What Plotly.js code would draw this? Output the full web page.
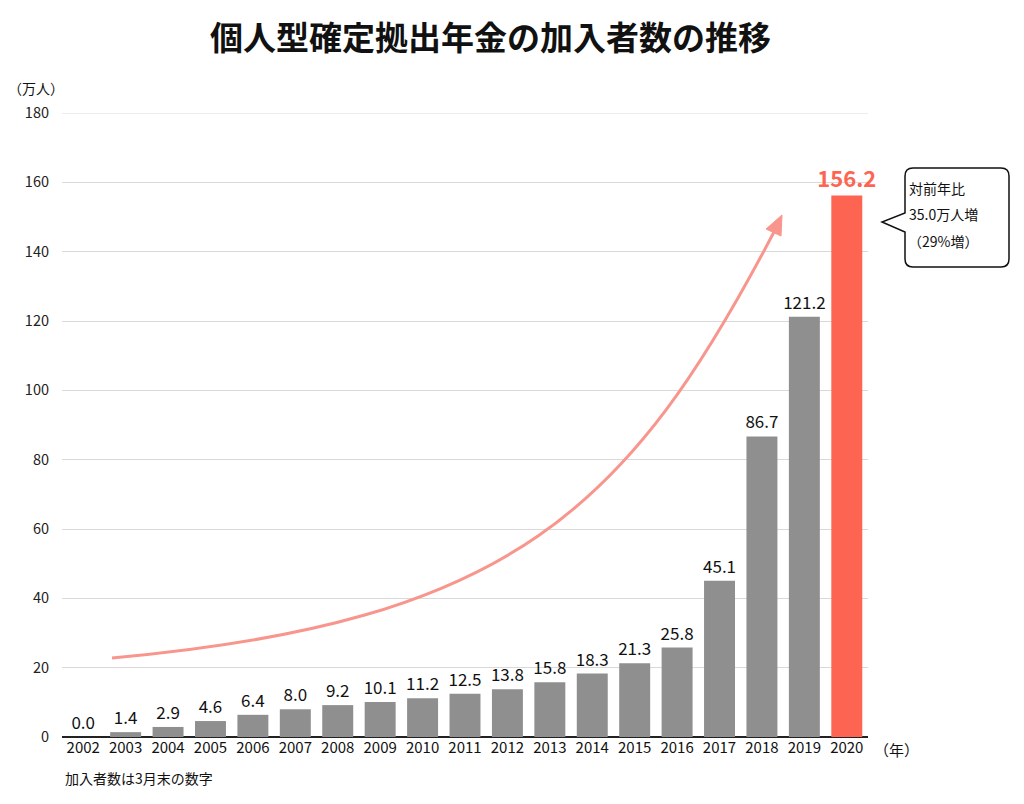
<!DOCTYPE html>
<html>
<head>
<meta charset="utf-8">
<script src="https://cdn.plot.ly/plotly-3.0.1.min.js"></script>
<style>html,body{margin:0;padding:0;background:#fff;}#chart{width:1024px;height:804px;}</style>
</head>
<body>
<div id="chart"></div>
<script>
const years = ['2002','2003','2004','2005','2006','2007','2008','2009','2010','2011','2012','2013','2014','2015','2016','2017','2018','2019','2020'];
const members = [0.0,1.4,2.9,4.6,6.4,8.0,9.2,10.1,11.2,12.5,13.8,15.8,18.3,21.3,25.8,45.1,86.7,121.2,156.2];
const calloutLines = ['対前年比','35.0万人増','（29%増）'];
const titleText = '個人型確定拠出年金の加入者数の推移';
const yUnit = '（万人）';
const xUnit = '（年）';
const footnote = '加入者数は3月末の数字';

const FONT = '"Noto Sans CJK JP", "Noto Sans", sans-serif';
const GRAY = '#8f8f8f', RED = '#fe6452', ARROW = '#f8958c';

// plot area in pixels
const L = 62, R = 868, T = 113, B = 737;
const px = x => (x - L) / (R - L);
const py = y => (B - y) / (B - T);
const P = (x, y) => px(x).toFixed(5) + ',' + py(y).toFixed(5);

const last = members.length - 1;
const barColors = members.map((v, i) => i === last ? RED : GRAY);
const textColors = members.map((v, i) => i === last ? RED : '#111');
const textSizes = members.map((v, i) => i === last ? 22 : 17);
const labels = members.map((v, i) => i === last ? '<b>' + v.toFixed(1) + '</b>' : v.toFixed(1));

const trace = {
  type: 'bar', x: years, y: members,
  marker: {color: barColors, line: {width: 0}},
  text: labels, textposition: 'outside', cliponaxis: false, constraintext: 'none',
  textfont: {color: textColors, size: textSizes, family: FONT},
  hoverinfo: 'x+y'
};

// decorative trend arrow (single cubic curve in pixel geometry, converted to paper)
const arrowPath = 'M ' + P(112,658) + ' C ' + P(512,622) + ' ' + P(629,510) + ' ' + P(775,230);
const headPath = 'M ' + P(782,215) + ' L ' + P(766,229) + ' L ' + P(781,236) + ' Z';
const boxPath = 'M ' + P(913,168) + ' L ' + P(1001,168) + ' Q ' + P(1009,168) + ' ' + P(1009,176) +
  ' L ' + P(1009,259) + ' Q ' + P(1009,267) + ' ' + P(1001,267) + ' L ' + P(913,267) +
  ' Q ' + P(905,267) + ' ' + P(905,259) + ' L ' + P(905,232) + ' L ' + P(882,222) + ' L ' + P(905,213) +
  ' L ' + P(905,176) + ' Q ' + P(905,168) + ' ' + P(913,168) + ' Z';

const shapes = [
  {type:'line', xref:'paper', yref:'y', x0:0, x1:1, y0:180, y1:180, line:{color:'#d9d9d9', width:1}, layer:'below'},
  {type:'path', xref:'paper', yref:'paper', path: arrowPath, line:{color:ARROW, width:3}, layer:'above'},
  {type:'path', xref:'paper', yref:'paper', path: headPath, fillcolor:ARROW, line:{color:ARROW, width:1}, layer:'above'},
  {type:'path', xref:'paper', yref:'paper', path: boxPath, fillcolor:'#fff', line:{color:'#111', width:1.5}, layer:'above'}
];

const ann = (text, x, y, size, xanchor) => ({
  text: text, xref:'paper', yref:'paper', x: px(x), y: py(y), xanchor: xanchor, yanchor:'middle',
  showarrow:false, font:{family:FONT, size:size, color:'#111'}
});

const annotations = [
  ann(yUnit, 36, 88, 14, 'center'),
  ann(xUnit, 872, 749, 15, 'left'),
  ann(footnote, 63, 778, 14, 'left'),
  ann(calloutLines[0], 907, 188, 14, 'left'),
  ann(calloutLines[1], 907, 214, 14, 'left'),
  ann(calloutLines[2], 906, 241, 14, 'left')
];

const layout = {
  width: 1024, height: 804,
  margin: {l: L, r: 1024 - R, t: T, b: 804 - B, pad: 0},
  paper_bgcolor: '#fff', plot_bgcolor: '#fff',
  showlegend: false, bargap: 0.27,
  font: {family: FONT, color: '#111'},
  title: {text: '<b>' + titleText + '</b>', x: 0.479, xanchor:'center', y: 1 - 38/804, yanchor:'middle', yref:'container',
          font: {family: '"Noto Sans CJK JP", sans-serif', size: 33, color: '#111'}},
  xaxis: {type:'category', showgrid:false, showline:false, ticks:'', zeroline:false,
          tickfont:{family:FONT, size:15, color:'#111'}, ticklabelstandoff: 0, fixedrange:true},
  yaxis: {range:[0,180], dtick:20, showgrid:true, gridcolor:'#d9d9d9', gridwidth:1,
          zeroline:true, zerolinecolor:'#222', zerolinewidth:1.6, showline:false, ticks:'',
          tickfont:{family:FONT, size:14.5, color:'#222'}, ticklabelstandoff: 12, fixedrange:true},
  shapes: shapes, annotations: annotations
};

Plotly.newPlot('chart', [trace], layout, {displayModeBar:false, staticPlot:true});
</script>
</body>
</html>
